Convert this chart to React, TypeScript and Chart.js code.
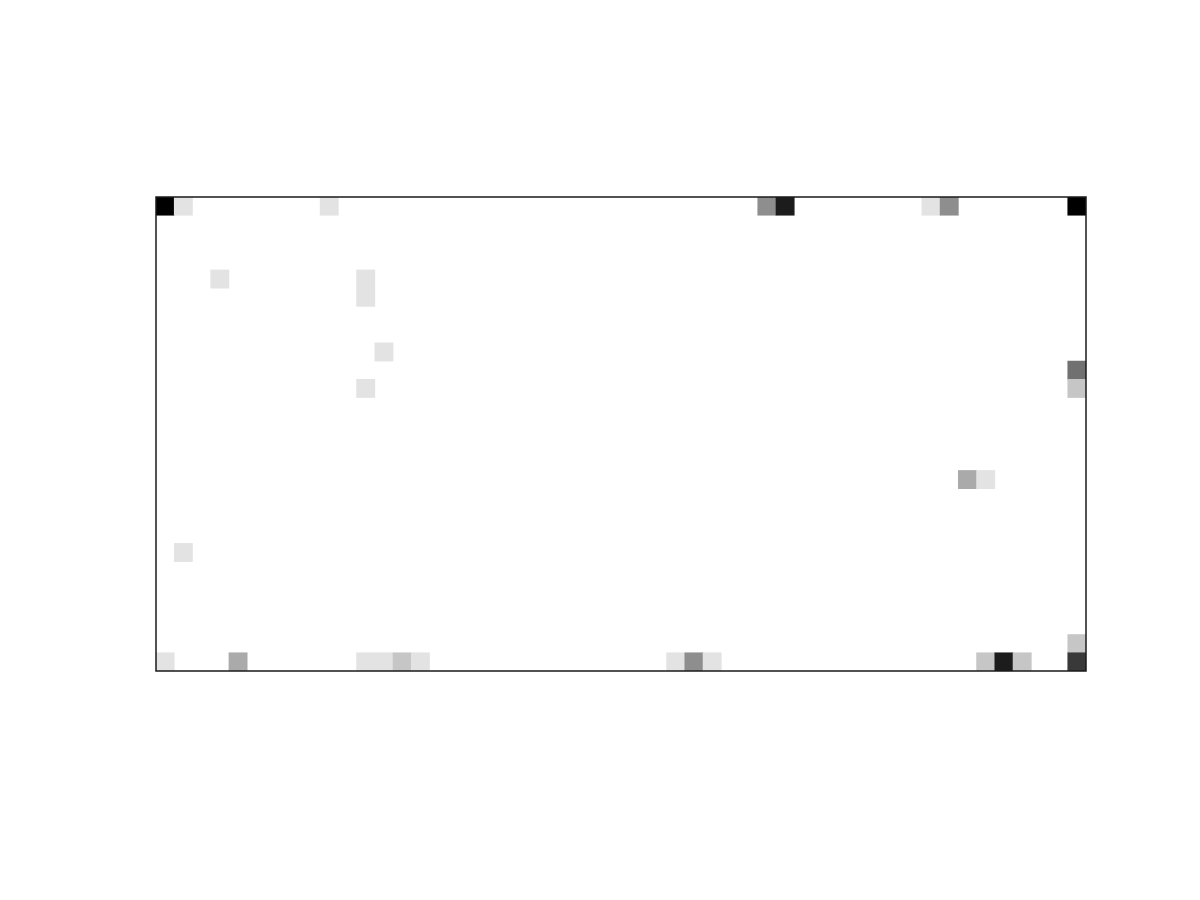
import React, { useEffect, useRef } from "react";
import { Chart, registerables } from "chart.js";

Chart.register(...registerables);

const columnLabels: string[] = Array.from({ length: 51 }, (_, i) => String(i));
const rowCount = 26;

// Non-empty cells of the grid: column index, row index, intensity level (0-9)
const cellCols: number[] = [0, 1, 9, 33, 34, 42, 43, 50, 3, 11, 11, 12, 50, 11, 50, 44, 45, 1, 50, 0, 4, 11, 12, 13, 14, 28, 29, 30, 45, 46, 47, 50];
const cellRows: number[] = [0, 0, 0, 0, 0, 0, 0, 0, 4, 4, 5, 8, 9, 10, 10, 15, 15, 19, 24, 25, 25, 25, 25, 25, 25, 25, 25, 25, 25, 25, 25, 25];
const cellLevels: number[] = [9, 1, 1, 4, 8, 1, 4, 9, 1, 1, 1, 1, 5, 1, 2, 3, 1, 1, 2, 1, 3, 1, 1, 2, 1, 1, 4, 1, 2, 8, 2, 7];
const maxLevel = 9;

function levelColor(level: number): string {
  const g = Math.round(255 - (255 * level) / maxLevel);
  return `rgb(${g},${g},${g})`;
}

const borderPlugin = {
  id: "plotBorder",
  afterDatasetsDraw(chart: any) {
    const { ctx, chartArea } = chart;
    ctx.save();
    ctx.strokeStyle = "#1a1a1a";
    ctx.lineWidth = 1.5;
    ctx.strokeRect(chartArea.left, chartArea.top, chartArea.right - chartArea.left, chartArea.bottom - chartArea.top);
    ctx.restore();
  },
};

export default function App() {
  const ref = useRef<HTMLCanvasElement | null>(null);
  useEffect(() => {
    if (!ref.current) return;
    const data = cellCols.map((c, i) => ({ x: columnLabels[c], y: [cellRows[i], cellRows[i] + 1] }));
    const colors = cellLevels.map(levelColor);
    const chart = new Chart(ref.current, {
      type: "bar",
      data: {
        labels: columnLabels,
        datasets: [
          {
            data: data as any,
            backgroundColor: colors,
            borderWidth: 0,
            barPercentage: 1,
            categoryPercentage: 1,
            grouped: false,
          } as any,
        ],
      },
      options: {
        responsive: false,
        animation: false,
        layout: { padding: { left: 156, top: 197, right: 114, bottom: 229 } },
        plugins: { legend: { display: false }, tooltip: { enabled: false } },
        scales: {
          x: { type: "category", display: false, offset: true },
          y: { type: "linear", display: false, min: 0, max: rowCount, reverse: true },
        },
      },
      plugins: [borderPlugin],
    });
    return () => chart.destroy();
  }, []);
  return (
    <div style={{ position: "fixed", left: 0, top: 0, width: 1200, height: 900, background: "#fff" }}>
      <canvas ref={ref} width={1200} height={900} style={{ display: "block" }} />
    </div>
  );
}
